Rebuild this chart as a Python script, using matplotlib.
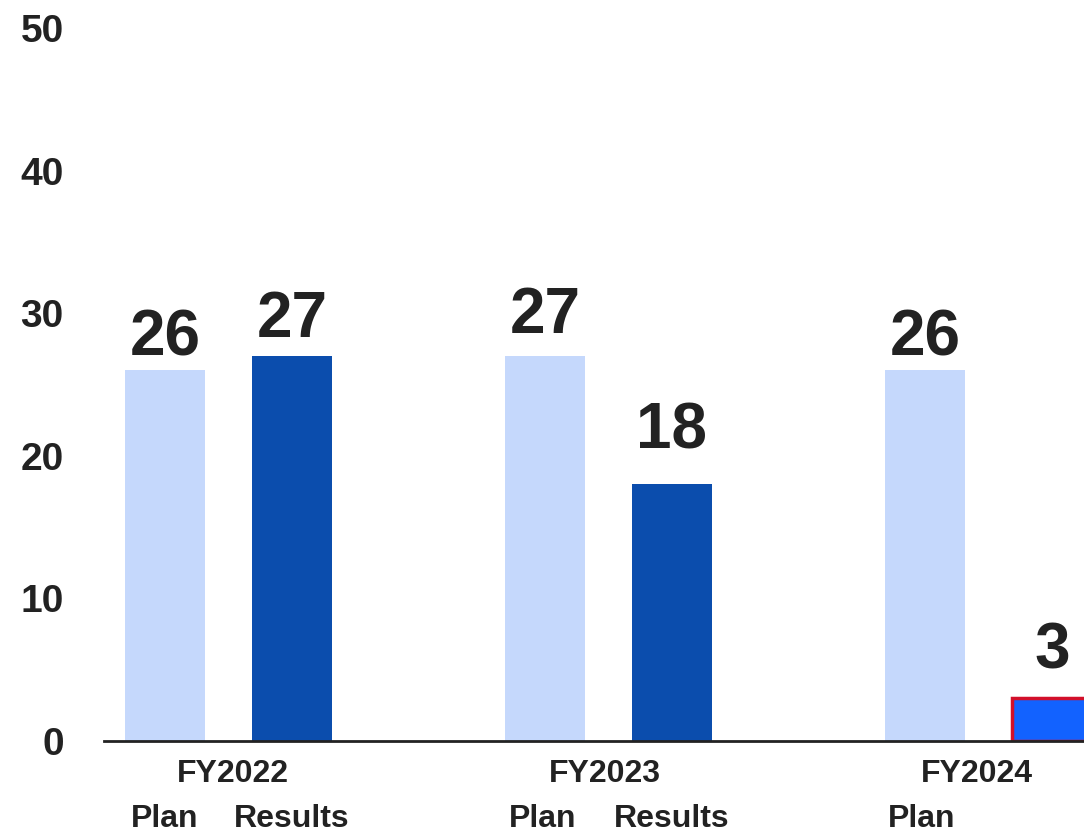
import numpy as np
import matplotlib.pyplot as plt

plt.rcParams['font.family'] = ['Liberation Sans', 'DejaVu Sans']
plt.rcParams['font.weight'] = 'bold'

years = ["FY2022", "FY2023", "FY2024"]
plan = [26, 27, 26]
results = [27, 18, 3]
ylim_max = 50

plan_color = "#c5d8fc"
result_color = "#0b4dad"
current_color = "#1262ff"
edge_red = "#d2102a"
text_color = "#222222"

# gap (px) between bar top and label baseline
plan_gap = [15, 23, 15]
result_gap = [19, 36, 30]
px_per_unit = 713 / 50

fig = plt.figure(figsize=(10.84, 8.33), dpi=100)
ax = fig.add_axes([104 / 1084, 1 - 741 / 833, 1 - 104 / 1084, (741 - 28) / 833])

x = np.arange(len(years))
w = 80 / 380
off = 127 / 2 / 380

ax.bar(x - off, plan, width=w, color=plan_color, zorder=2)
res_colors = [result_color, result_color, current_color]
bars = ax.bar(x + off, results, width=w, color=res_colors, zorder=2)
bars[-1].set_edgecolor(edge_red)
bars[-1].set_linewidth(2.5)

for xi, v, g in zip(x - off, plan, plan_gap):
    ax.text(xi, v + g / px_per_unit, str(v), ha='center', va='baseline',
            fontsize=46, fontweight='bold', color=text_color)
for xi, v, g in zip(x + off, results, result_gap):
    ax.text(xi, v + g / px_per_unit, str(v), ha='center', va='baseline',
            fontsize=46, fontweight='bold', color=text_color)

ax.set_xlim((104 - 228.5) / 380, (1084 - 228.5) / 380)
ax.set_ylim(0, ylim_max)
ax.set_yticks(range(0, 51, 10))
ax.tick_params(axis='y', length=0, labelsize=28, labelcolor=text_color, pad=29)
ax.set_xticks([])
for s in ['top', 'right', 'left']:
    ax.spines[s].set_visible(False)
ax.spines['bottom'].set_color(text_color)
ax.spines['bottom'].set_linewidth(2)
ax.spines['bottom'].set_zorder(3)
ax.spines['bottom'].set_clip_on(False)

for i, yr in enumerate(years):
    ax.text(0.012 + 0.979 * i, -41 / px_per_unit, yr, ha='center', va='baseline',
            fontsize=23, fontweight='bold', color=text_color, clip_on=False)
    ax.text(0.995 * i - off, -86 / px_per_unit, "Plan", ha='center', va='baseline',
            fontsize=23, fontweight='bold', color=text_color, clip_on=False)
    if i < 2:
        ax.text(i + off, -86 / px_per_unit, "Results", ha='center', va='baseline',
                fontsize=23, fontweight='bold', color=text_color, clip_on=False)

fig.savefig("out.png", dpi=100)
